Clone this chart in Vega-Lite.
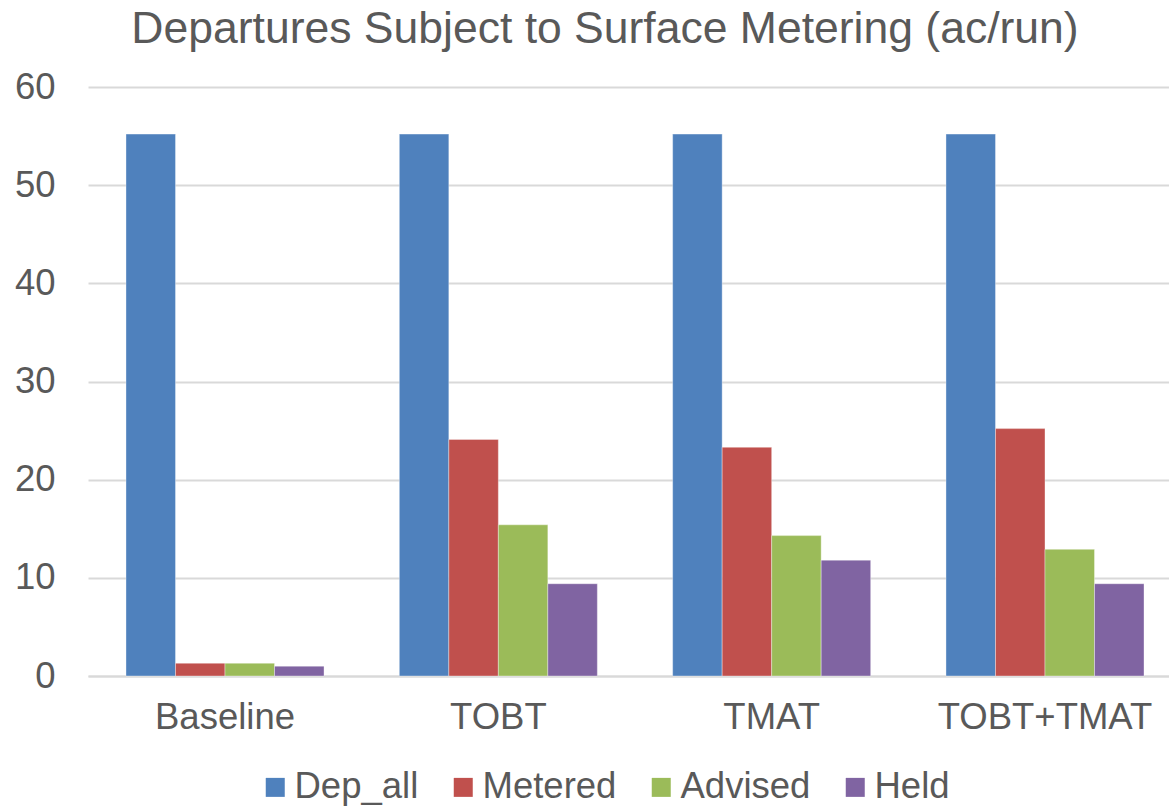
{
  "$schema": "https://vega.github.io/schema/vega-lite/v6.json",
  "width": 1094,
  "height": 589,
  "autosize": {"type": "none"},
  "padding": {"left": 88, "top": 87, "right": 0, "bottom": 131},
  "background": "white",
  "title": {
    "text": "Departures Subject to Surface Metering (ac/run)",
    "font": "Liberation Sans",
    "fontSize": 44.5,
    "fontWeight": "normal",
    "color": "#595959",
    "anchor": "middle",
    "dx": -30,
    "offset": 17
  },
  "data": {
    "values": [
      {"scenario": "Baseline", "series": "Dep_all", "value": 55.2},
      {"scenario": "Baseline", "series": "Metered", "value": 1.3},
      {"scenario": "Baseline", "series": "Advised", "value": 1.3},
      {"scenario": "Baseline", "series": "Held", "value": 1.0},
      {"scenario": "TOBT", "series": "Dep_all", "value": 55.2},
      {"scenario": "TOBT", "series": "Metered", "value": 24.1},
      {"scenario": "TOBT", "series": "Advised", "value": 15.4},
      {"scenario": "TOBT", "series": "Held", "value": 9.4},
      {"scenario": "TMAT", "series": "Dep_all", "value": 55.2},
      {"scenario": "TMAT", "series": "Metered", "value": 23.3},
      {"scenario": "TMAT", "series": "Advised", "value": 14.3},
      {"scenario": "TMAT", "series": "Held", "value": 11.8},
      {"scenario": "TOBT+TMAT", "series": "Dep_all", "value": 55.2},
      {"scenario": "TOBT+TMAT", "series": "Metered", "value": 25.2},
      {"scenario": "TOBT+TMAT", "series": "Advised", "value": 12.9},
      {"scenario": "TOBT+TMAT", "series": "Held", "value": 9.4}
    ]
  },
  "mark": {"type": "bar", "stroke": "white", "strokeWidth": 0.6, "strokeOpacity": 0.6},
  "encoding": {
    "x": {
      "field": "scenario",
      "type": "nominal",
      "sort": ["Baseline", "TOBT", "TMAT", "TOBT+TMAT"],
      "scale": {"paddingInner": 0.2755, "paddingOuter": 0.139},
      "axis": {
        "title": null,
        "labelAngle": 0,
        "labelFont": "Liberation Sans",
        "labelFontSize": 36.5,
        "labelColor": "#595959",
        "labelPadding": 23,
        "labelLimit": 400,
        "ticks": false,
        "domain": true,
        "domainColor": "#d9d9d9",
        "domainWidth": 2,
        "grid": false
      }
    },
    "xOffset": {
      "field": "series",
      "type": "nominal",
      "sort": ["Dep_all", "Metered", "Advised", "Held"],
      "scale": {"paddingInner": 0, "paddingOuter": 0}
    },
    "y": {
      "field": "value",
      "type": "quantitative",
      "scale": {"domain": [0, 60], "nice": false},
      "axis": {
        "title": null,
        "values": [0, 10, 20, 30, 40, 50, 60],
        "labelFont": "Liberation Sans",
        "labelFontSize": 36.5,
        "labelColor": "#595959",
        "labelPadding": 33,
        "ticks": false,
        "domain": false,
        "grid": true,
        "gridColor": "#d9d9d9",
        "gridWidth": 2
      }
    },
    "color": {
      "field": "series",
      "type": "nominal",
      "sort": ["Dep_all", "Metered", "Advised", "Held"],
      "scale": {
        "domain": ["Dep_all", "Metered", "Advised", "Held"],
        "range": ["#4F81BD", "#C0504D", "#9BBB59", "#8064A2"]
      },
      "legend": {
        "title": null,
        "orient": "none",
        "legendX": 169,
        "legendY": 682,
        "direction": "horizontal",
        "symbolType": "square",
        "symbolSize": 361,
        "symbolStrokeWidth": 0,
        "labelFont": "Liberation Sans",
        "labelFontSize": 36.5,
        "labelColor": "#595959",
        "labelOffset": 1,
        "columnPadding": 26,
        "labelLimit": 300
      }
    }
  },
  "config": {
    "view": {"stroke": null},
    "axis": {"gridCap": "butt"}
  }
}
